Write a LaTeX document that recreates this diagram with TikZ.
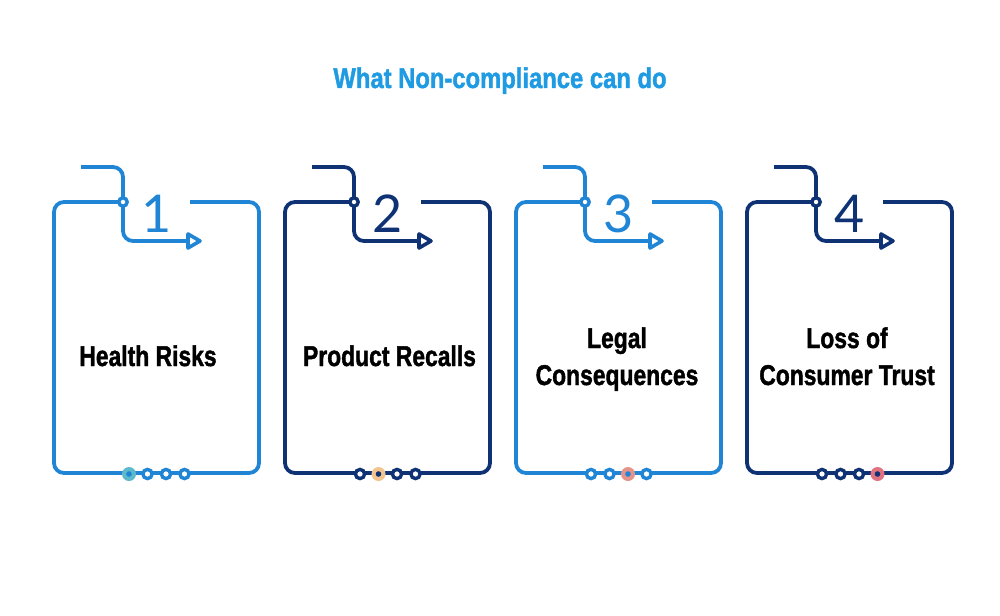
\documentclass[tikz,border=0pt]{standalone}
\usepackage{fontspec}
\setmainfont{Liberation Sans}
\newfontfamily\heavyfont{Liberation Sans Bold}[FakeBold=1.6]
\newfontfamily\numfont{Lato}
\definecolor{lblue}{HTML}{2185D6}
\definecolor{navy}{HTML}{0E3274}
\definecolor{ttl}{HTML}{1E9BE2}
\definecolor{hla}{HTML}{5DB9CC}
\definecolor{hlb}{HTML}{F2C48F}
\definecolor{hlc}{HTML}{E4948A}
\definecolor{hld}{HTML}{E07282}
\begin{document}
\begin{tikzpicture}[x=1pt,y=-1pt,
  frame/.style={line width=3.8pt, rounded corners=10pt},
  ring/.style={line width=3.4pt, fill=white},
  label/.style={font=\heavyfont\fontsize{28.6}{37}\selectfont, inner sep=0pt, anchor=base, xscale=0.8, transform shape},
  numlbl/.style={font=\numfont\fontsize{52}{52}\selectfont, inner sep=0pt}]
\useasboundingbox (0,0) rectangle (1000,615);
\fill[white] (0,0) rectangle (1000,615);
\node[label, text=ttl, xscale=1.04] (title) at (500,88) {What Non-compliance can do};
\foreach \i/\xo/\col/\hl/\hp in {1/54/lblue/hla/0, 2/285/navy/hlb/1, 3/516/lblue/hlc/2, 4/747/navy/hld/3}{
  \begin{scope}[draw=\col]
    % frame with gap at top
    \draw[frame] ({\xo+69},202) -- (\xo,202) -- (\xo,473) -- ({\xo+205},473) -- ({\xo+205},202) -- ({\xo+136},202);
    % hook arrow
    \draw[frame] ({\xo+27},167) -- ({\xo+69},167) -- ({\xo+69},241) -- ({\xo+134},241);
    \draw[line width=3.6pt, fill=white, line join=round] ({\xo+134},234) -- ({\xo+146},241) -- ({\xo+134},248) -- cycle;
    \draw[ring] ({\xo+69},202) circle (4.2pt);
    % dots
    \foreach \k in {0,1,2,3}{
      \ifnum\k=\hp
        \fill[\hl] ({\xo+75+18.5*\k},474) circle (7pt);
        \fill[\col] ({\xo+75+18.5*\k},474) circle (2.8pt);
      \else
        \draw[ring] ({\xo+75+18.5*\k},474) circle (4.6pt);
      \fi
    }
    \node[numlbl, text=\col] (n\i) at ({\xo+102.5},213.5) {\i};
  \end{scope}
}
\node[label] (t1) at (148,366) {Health Risks};
\node[label] (t2) at (389.5,366) {Product Recalls};
\node[label] (t3a) at (617,348) {Legal};
\node[label] (t3b) at (617,385) {Consequences};
\node[label] (t4a) at (847,348) {Loss of};
\node[label] (t4b) at (847,385) {Consumer Trust};
\end{tikzpicture}
\end{document}
